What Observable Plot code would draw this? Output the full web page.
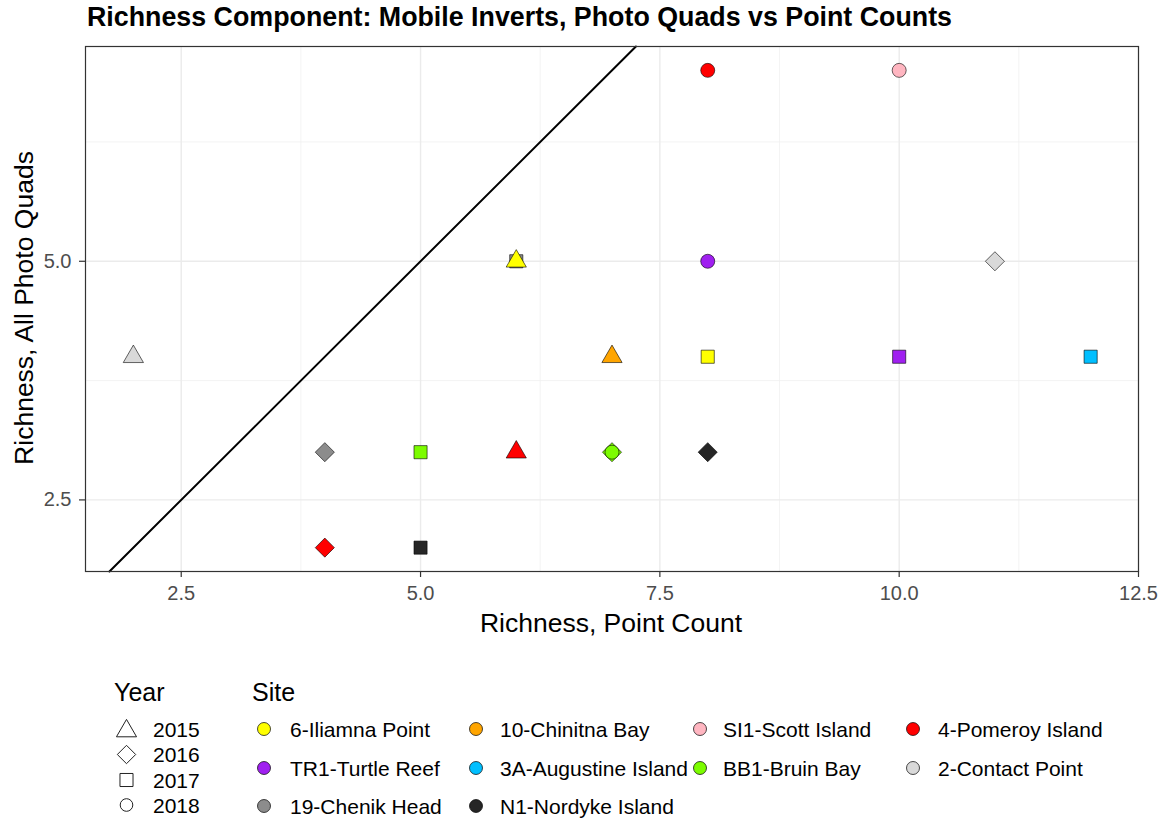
<!DOCTYPE html>
<html><head><meta charset="utf-8">
<script src="https://cdn.jsdelivr.net/npm/d3@7"></script>
<script src="https://cdn.jsdelivr.net/npm/@observablehq/plot@0.6"></script>
<style>
body{margin:0;background:#fff;}
#wrap{position:relative;width:1165px;height:821px;font-family:"Liberation Sans",Arial,sans-serif;}
#wrap svg{position:absolute;left:0;top:0;}
</style></head><body><div id="wrap"></div>
<script>
// ---- data ----
const sites = ["6-Iliamna Point","10-Chinitna Bay","SI1-Scott Island","4-Pomeroy Island",
               "TR1-Turtle Reef","3A-Augustine Island","BB1-Bruin Bay","2-Contact Point",
               "19-Chenik Head","N1-Nordyke Island"];
const siteColors = ["#FFFF00","#FFA500","#FFB6C1","#FF0000","#A020F0","#00BFFF","#7CFC00","#D9D9D9","#8C8C8C","#262626"];
const years = [2015,2016,2017,2018];
const yearSymbols = ["triangle","diamond2","square","circle"];
const xTicks = [2.5,5,7.5,10,12.5];
const yTicks = [2.5,5];
const xMinor = [3.75,6.25,8.75,11.25];
const yMinor = [3.75,6.25];
const xDomain = [1.5,12.5];
const yDomain = [1.75,7.25];

const pointSite = ["2-Contact Point","19-Chenik Head","4-Pomeroy Island","BB1-Bruin Bay","N1-Nordyke Island",
  "19-Chenik Head","6-Iliamna Point","4-Pomeroy Island","10-Chinitna Bay","BB1-Bruin Bay","BB1-Bruin Bay",
  "4-Pomeroy Island","TR1-Turtle Reef","6-Iliamna Point","N1-Nordyke Island","SI1-Scott Island",
  "TR1-Turtle Reef","2-Contact Point","3A-Augustine Island"];
const pointYear = [2015,2016,2016,2017,2017,2017,2015,2015,2015,2016,2018,2018,2018,2017,2016,2018,2017,2016,2017];
const pointCount = [2,4,4,5,5,6,6,6,7,7,7,8,8,8,8,10,10,11,12];
const photoQuads = [4,3,2,3,2,5,5,3,4,3,3,7,5,4,3,7,4,5,4];

// ---- build ----
const data = pointSite.map((s,i)=>({site:s, year:pointYear[i], x:pointCount[i], y:photoQuads[i]}));
const drawOrder = [2017,2015,2016,2018];
const symbolR = {2015:7.5, 2016:8.6, 2017:7.4, 2018:7};
const lo = Math.max(xDomain[0], yDomain[0]), hi = Math.min(xDomain[1], yDomain[1]);
const identity = [lo, hi];

const FONT = '"Liberation Sans",Arial,sans-serif';
const wrap = document.getElementById("wrap");

const dotMarks = drawOrder.map(yr => Plot.dot(data.filter(d=>d.year===yr), {
  x:"x", y:"y", fill:"site", symbol:"year", r:symbolR[yr], stroke:"black", strokeWidth:0.6
}));

const chart = Plot.plot({
  width:1165, height:650,
  marginTop:46, marginBottom:79, marginLeft:85, marginRight:27,
  style:{fontFamily:FONT, background:"transparent", overflow:"visible"},
  x:{domain:xDomain}, y:{domain:yDomain},
  color:{domain:sites, range:siteColors},
  symbol:{domain:years, range:yearSymbols},
  marks:[
    Plot.ruleX(xMinor,{stroke:"#f0f0f0", strokeWidth:0.8}),
    Plot.ruleY(yMinor,{stroke:"#f0f0f0", strokeWidth:0.8}),
    Plot.ruleX(xTicks,{stroke:"#ebebeb", strokeWidth:1.4}),
    Plot.ruleY(yTicks,{stroke:"#ebebeb", strokeWidth:1.4}),
    Plot.line(identity,{x:d=>d, y:d=>d, stroke:"black", strokeWidth:2}),
    ...dotMarks,
    Plot.frame({stroke:"#333", strokeWidth:1.2}),
    Plot.axisX(xTicks,{tickFormat:d3.format(".1f"), tickSize:6, tickPadding:8, fontSize:20, fill:"#4d4d4d", stroke:"#333", strokeWidth:1.2, label:null}),
    Plot.axisY(yTicks,{tickFormat:d3.format(".1f"), tickSize:6, tickPadding:8, fontSize:20, fill:"#4d4d4d", stroke:"#333", strokeWidth:1.2, label:null})
  ]
});
wrap.appendChild(chart);

// ---- overlay: titles and legends ----
const svg = d3.select(wrap).append("svg").attr("width",1165).attr("height",821)
  .style("font-family",FONT).style("pointer-events","none");

svg.append("text").attr("x",87).attr("y",26).attr("font-size",26.8).attr("font-weight","bold")
  .attr("fill","black").text("Richness Component: Mobile Inverts, Photo Quads vs Point Counts");
svg.append("text").attr("x",611).attr("y",632).attr("text-anchor","middle").attr("font-size",26.5)
  .attr("fill","black").text("Richness, Point Count");
svg.append("text").attr("transform","translate(32.5,308) rotate(-90)").attr("text-anchor","middle")
  .attr("font-size",26.5).attr("fill","black").text("Richness, All Photo Quads");

// Year legend
svg.append("text").attr("x",114).attr("y",701).attr("font-size",25).attr("fill","black").text("Year");
const symTypes = {triangle:d3.symbolTriangle, diamond2:d3.symbolDiamond2, square:d3.symbolSquare, circle:d3.symbolCircle};
const legSizes = {triangle:175, diamond2:215, square:170, circle:125};
const yearRowY = [729.5, 754.5, 780, 805];
years.forEach((yr,i)=>{
  const t = yearSymbols[i];
  svg.append("path").attr("d", d3.symbol().type(symTypes[t]).size(legSizes[t])())
    .attr("transform",`translate(126.5,${yearRowY[i] + (t==="triangle"?1.5:0)})`)
    .attr("fill","white").attr("stroke","#222").attr("stroke-width",1);
  svg.append("text").attr("x",153).attr("y",yearRowY[i]+7.5).attr("font-size",21).attr("fill","black").text(yr);
});

// Site legend
svg.append("text").attr("x",252).attr("y",701).attr("font-size",25).attr("fill","black").text("Site");
const colCircleX = [264, 476, 700, 913];
const colTextX = [290, 500, 723, 938];
const siteRowY = [729, 768, 806];
sites.forEach((s,i)=>{
  const r = Math.floor(i/4), c = i%4;
  svg.append("circle").attr("cx",colCircleX[c]).attr("cy",siteRowY[r]).attr("r",6.5)
    .attr("fill",siteColors[i]).attr("stroke","black").attr("stroke-width",0.7);
  svg.append("text").attr("x",colTextX[c]).attr("y",siteRowY[r]+7.5).attr("font-size",21).attr("fill","black").text(s);
});
</script>
</body></html>
